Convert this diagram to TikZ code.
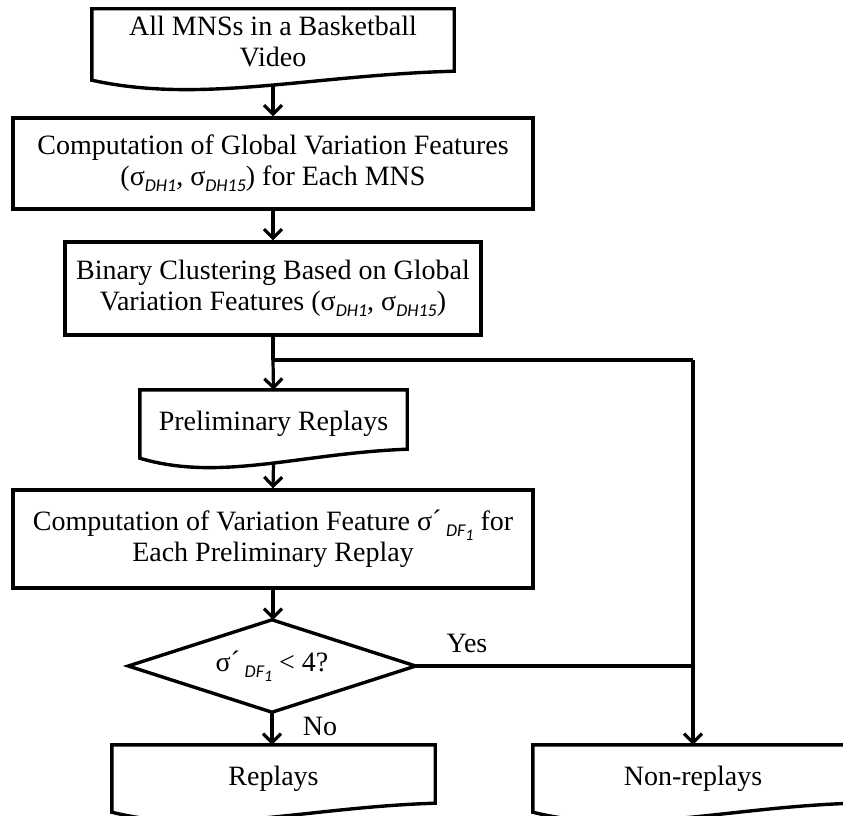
\documentclass[tikz,border=0pt]{standalone}
\usepackage{fontspec}
\setmainfont{Liberation Serif}
\newfontfamily\subf{Carlito}
\usetikzlibrary{arrows.meta,calc}
\newcommand\sub[1]{\raisebox{-0.45ex}{\fontsize{18}{18}\selectfont\subf\itshape #1}}
\newcommand\subone{\raisebox{-0.45ex}{\fontsize{16}{16}\selectfont\subf\itshape 1}}
\newcommand\sigp{σ\raisebox{0.1ex}{´}\,\sub{DF\subone}}
\newcommand\docpath[1]{%
  \draw[boxline] let \p1=(#1.south west), \p2=(#1.north east), \n1={\x2-\x1} in
    (\p1) -- (\x1,\y2) -- (\p2) -- (\x2,\y1+9pt)
    .. controls (\x1+0.6*\n1,\y1+5pt) and (\x1+0.3*\n1,\y1-24pt) .. (\p1) -- cycle;
  \coordinate (#1w) at ($(#1.south)+(0,5)$);}
\newcommand\diapath[1]{%
  \draw[boxline] (#1.north) -- (#1.east) -- (#1.south) -- (#1.west) -- cycle;}
\begin{document}
\begin{tikzpicture}[x=1pt,y=-1pt,
  boxline/.style={line width=3.4pt,line join=miter},
  txt/.style={font=\fontsize{28}{31}\selectfont,align=center,inner sep=0pt},
  procbox/.style={txt,draw,line width=3.4pt},
  docbox/.style={txt},
  decbox/.style={txt,minimum width=287pt,minimum height=92pt},
  arr/.style={line width=3.2pt,-{Straight Barb[length=9pt,width=18pt,line width=3.2pt]}},
  conn/.style={line width=3.2pt},
  lbl/.style={font=\fontsize{28}{30}\selectfont,inner sep=0pt}]
\useasboundingbox (0,0) rectangle (843,816);
\begin{scope}
\clip (0,0) rectangle (843,816);
\node[docbox,minimum width=362pt,minimum height=71pt] (b1) at (273,44.5)
  {\raisebox{4pt}{\begin{tabular}{@{}c@{}}All MNSs in a Basketball\\Video\end{tabular}}};
\docpath{b1}
\node[procbox,minimum width=520pt,minimum height=91pt] (b2) at (273,163.5)
  {Computation of Global Variation Features\\(σ\sub{DH1}, σ\sub{DH15}) for Each MNS};
\node[procbox,minimum width=416pt,minimum height=93pt] (b3) at (273,288.5)
  {Binary Clustering Based on Global\\Variation Features (σ\sub{DH1}, σ\sub{DH15})};
\node[docbox,minimum width=267pt,minimum height=68pt] (b4) at (273.5,424) {Preliminary Replays};
\docpath{b4}
\node[procbox,minimum width=520pt,minimum height=98pt] (b5) at (273,539)
  {Computation of Variation Feature \sigp{} for\\Each Preliminary Replay};
\node[decbox] (d) at (272,666) {\sigp{} < 4?};
\diapath{d}
\node[docbox,minimum width=323pt,minimum height=67pt] (r) at (273.5,778.5) {Replays};
\docpath{r}
\node[docbox,minimum width=320pt,minimum height=67pt] (n) at (693,778.5) {Non-replays};
\docpath{n}
\coordinate (j) at (273,360);
\coordinate (c) at (693,360);
\coordinate (y) at (693,666);
\draw[arr] (b1w) -- (b2.north);
\draw[arr] (b2.south) -- (b3.north);
\draw[conn] (b3.south) -- (j);
\draw[arr] (j) -- (b4.north);
\draw[conn] (j) -- (c);
\draw[arr] (c) -- (n.north);
\draw[arr] (b4w) -- (b5.north);
\draw[arr] (b5.south) -- (b5.south |- d.north);
\draw[conn] (d.east) -- (y);
\draw[arr] (d.south) -- (d.south |- r.north);
\node[lbl] (yes) at (467,643) {Yes};
\node[lbl] (no) at (320,726) {No};
\end{scope}
\end{tikzpicture}
\end{document}
